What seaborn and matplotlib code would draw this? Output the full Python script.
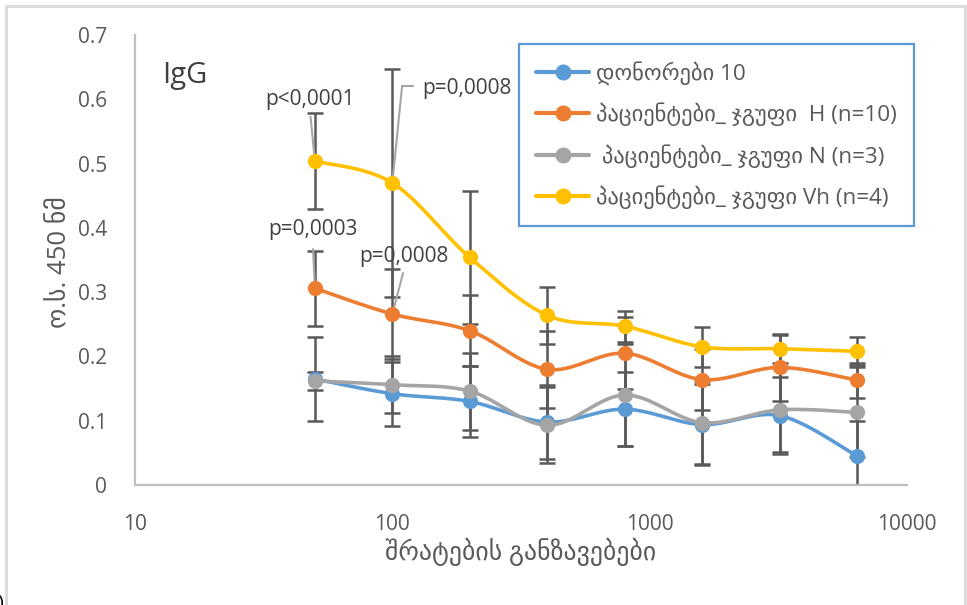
import numpy as np
import matplotlib
matplotlib.use("Agg")
import matplotlib.pyplot as plt
from matplotlib.lines import Line2D
from matplotlib.patches import Rectangle
import seaborn as sns

# serum dilutions
dilutions = [50, 100, 200, 400, 800, 1600, 3200, 6400]

# mean optical density at 450 nm per group
donors = [0.165, 0.142, 0.130, 0.098, 0.118, 0.094, 0.108, 0.045]
group_h = [0.306, 0.266, 0.240, 0.180, 0.205, 0.164, 0.183, 0.163]
group_n = [0.162, 0.156, 0.146, 0.093, 0.140, 0.097, 0.117, 0.113]
group_vh = [0.504, 0.470, 0.354, 0.264, 0.247, 0.215, 0.212, 0.208]

# error bar half-widths
donors_err = [0.065, 0.050, 0.055, 0.058, 0.058, 0.063, 0.060, 0.055]
group_h_err = [0.058, 0.070, 0.055, 0.060, 0.056, 0.047, 0.052, 0.027]
group_n_err = [0.014, 0.044, 0.060, 0.059, 0.080, 0.065, 0.065, 0.070]
group_vh_err = [0.074, 0.177, 0.103, 0.044, 0.024, 0.031, 0.022, 0.022]

labels = [
    "დონორები 10",
    "პაციენტები_ ჯგუფი  H (n=10)",
    " პაციენტები_ ჯგუფი N (n=3)",
    "პაციენტები_ ჯგუფი Vh (n=4)",
]
colors = ["#5B9BD5", "#ED7D31", "#A5A5A5", "#FFC000"]

y_ticks = [0, 0.1, 0.2, 0.3, 0.4, 0.5, 0.6, 0.7]
y_tick_labels = ["0", "0.1", "0.2", "0.3", "0.4", "0.5", "0.6", "0.7"]
x_ticks = [10, 100, 1000, 10000]
x_tick_labels = ["10", "100", "1000", "10000"]

sns.set_theme(style="white")
plt.rcParams["font.family"] = ["Open Sans", "DejaVu Sans"]

TXT = "#595959"
fig = plt.figure(figsize=(9.67, 6.05), dpi=100)
ax = fig.add_axes([0.1396, 0.1983, 0.7984, 0.7438])
ax.set_xscale("log")
ax.set_xlim(10, 10000)
ax.set_ylim(0, 0.7)


def smooth_curve(ax, xs, ys, n=24):
    """Excel-like smoothed line: cubic Bezier through points in screen space."""
    pts = ax.transData.transform(np.column_stack([xs, ys]))
    P = np.vstack([pts[0], pts, pts[-1]])
    out = []
    t = np.linspace(0, 1, n)[:, None]
    for i in range(1, len(P) - 2):
        p0, p1, p2, p3 = P[i - 1], P[i], P[i + 1], P[i + 2]
        c1 = p1 + (p2 - p0) / 6.0
        c2 = p2 - (p3 - p1) / 6.0
        seg = ((1 - t) ** 3) * p1 + 3 * ((1 - t) ** 2) * t * c1 + 3 * (1 - t) * t ** 2 * c2 + t ** 3 * p2
        out.append(seg if i == 1 else seg[1:])
    out = np.vstack(out)
    return ax.transData.inverted().transform(out)


series = [
    (donors, donors_err),
    (group_h, group_h_err),
    (group_n, group_n_err),
    (group_vh, group_vh_err),
]

for k, ((vals, errs), col) in enumerate(zip(series, colors)):
    ax.errorbar(dilutions, vals, yerr=errs, fmt="none", ecolor="#595959",
                elinewidth=1.8, capsize=5.5, capthick=1.8, zorder=2 + k * 0.1)
for k, ((vals, errs), col) in enumerate(zip(series, colors)):
    curve = smooth_curve(ax, dilutions, vals)
    sns.lineplot(x=curve[:, 0], y=curve[:, 1], sort=False, estimator=None,
                 color=col, linewidth=2.6, ax=ax, zorder=3 + k * 0.1)
    sns.scatterplot(x=dilutions, y=vals, color=col, s=120, linewidth=0,
                    ax=ax, zorder=3.05 + k * 0.1)

ax.set_xlim(10, 10000)
ax.set_ylim(0, 0.7)
ax.set_yticks(y_ticks)
ax.set_yticklabels(y_tick_labels)
ax.set_xticks(x_ticks)
ax.set_xticklabels(x_tick_labels)
ax.minorticks_off()
ax.tick_params(axis="both", length=0, labelsize=15, colors=TXT)
ax.tick_params(axis="y", pad=20)
ax.tick_params(axis="x", pad=21)
for s in ["top", "right"]:
    ax.spines[s].set_visible(False)
for s in ["left", "bottom"]:
    ax.spines[s].set_color("#BFBFBF")
    ax.spines[s].set_linewidth(1.6)
ax.set_xlabel("")
ax.set_ylabel("")
ax.grid(False)

fig.text(60 / 967, 1 - 262 / 605, "ო.ს. 450 ნმ", rotation=90, ha="center",
         va="center", fontsize=18.5, color=TXT)
fig.text(521 / 967, 1 - 552 / 605, "შრატების განზავებები", ha="center",
         va="center", fontsize=18.5, color=TXT)

# panel label
ax.text(0.035, 0.91, "IgG", transform=ax.transAxes, fontsize=21, color="#404040",
        ha="left", va="center")

# significance notes with leader lines
ANN = "#404040"
LEAD = dict(arrowstyle="-", color="#A6A6A6", lw=1.5, shrinkA=0, shrinkB=0)
ax.text(47.9, 0.599, "p<0,0001", ha="center", va="center", fontsize=15, color=ANN)
ax.annotate("", xy=(dilutions[0], group_vh[0]), xytext=(48.1, 0.573), arrowprops=LEAD)
ax.text(49.2, 0.397, "p=0,0003", ha="center", va="center", fontsize=15, color=ANN)
ax.annotate("", xy=(dilutions[0], group_h[0]), xytext=(49.2, 0.367), arrowprops=LEAD)
ax.text(130.5, 0.6175, "p=0,0008", ha="left", va="center", fontsize=15, color=ANN)
ax.plot([120.3, 109.1], [0.6206, 0.6206], color="#A6A6A6", lw=1.5, zorder=5)
ax.annotate("", xy=(dilutions[1], group_vh[1]), xytext=(109.1, 0.6206), arrowprops=LEAD)
ax.text(110.5, 0.356, "p=0,0008", ha="center", va="center", fontsize=15, color=ANN)
ax.annotate("", xy=(dilutions[1], group_h[1]), xytext=(110.1, 0.330), arrowprops=LEAD)

handles = [Line2D([0], [0], color=c, lw=3, marker="o", markersize=10.5) for c in colors]
leg = fig.legend(handles, labels, loc="upper left", bbox_to_anchor=(0.537, 0.927),
                 bbox_transform=fig.transFigure, borderaxespad=0, frameon=True,
                 fancybox=False, framealpha=1, edgecolor="#5B9BD5", fontsize=16.2,
                 labelspacing=0.8, handlelength=2.35, handletextpad=0.32,
                 borderpad=0.75, labelcolor=TXT)
leg.get_frame().set_linewidth(1.6)

# outer chart frame
fig.patches.append(Rectangle((6 / 967, -0.05), (965 - 6) / 967, 1.05 - 6 / 605,
                             transform=fig.transFigure, fill=False,
                             edgecolor="#D9D9D9", linewidth=2, clip_on=False))
fig.text(-0.003, -0.012, ")", fontsize=14, color="#000000", ha="left", va="bottom")

fig.savefig("out.png", dpi=100)
